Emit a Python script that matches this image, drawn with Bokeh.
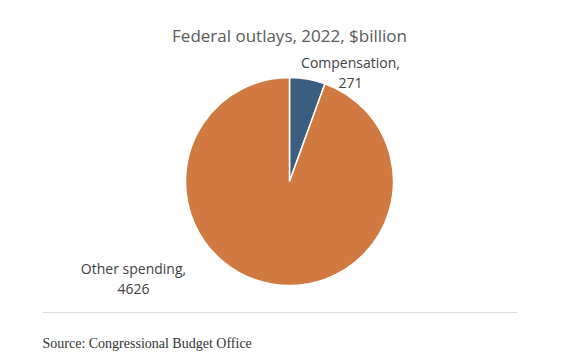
import numpy as np
from bokeh.plotting import figure
from bokeh.models import Range1d, ColumnDataSource
from bokeh.core.properties import value
from bokeh.embed import file_html
from bokeh.resources import INLINE

categories = ["Compensation", "Other spending"]
values = [271, 4626]
colors = ["#3B5D80", "#D07A41"]
title_text = "Federal outlays, 2022, $billion"
source_text = "Source: Congressional Budget Office"

W, H = 563, 356
p = figure(width=W, height=H, output_backend="svg", toolbar_location=None,
           x_range=Range1d(0, W), y_range=Range1d(0, H), min_border=0)
p.axis.visible = False
p.grid.visible = False
p.outline_line_color = None
p.background_fill_color = "white"
p.border_fill_color = "white"

total = sum(values)
fr = np.array(values) / total
cum = np.concatenate([[0], np.cumsum(fr)])
# clockwise from top
ends = np.pi / 2 - cum[:-1] * 2 * np.pi
starts = np.pi / 2 - cum[1:] * 2 * np.pi
cx, cy, r = 289, H - 181, 104
src = ColumnDataSource(dict(start=starts, end=ends, color=colors))
p.wedge(x=cx, y=cy, radius=r, radius_units="screen", start_angle="start", end_angle="end",
        fill_color="color", line_color="white", line_width=1.5, source=src)

p.text(x=[289], y=[H - 35], text=[title_text], text_font=value("Open Sans"),
       text_font_size="17px", text_color="#595959", text_align="center", text_baseline="middle")

lab_x = [350, 133]
lab_y = [H - 62, H - 268]
line1 = [f"{c}," for c in categories]
line2 = [str(v) for v in values]
p.text(x=lab_x, y=lab_y, text=line1, text_font=value("Open Sans"),
       text_font_size="14px", text_color="#404040", text_align="center", text_baseline="middle")
p.text(x=lab_x, y=[y - 20 for y in lab_y], text=line2, text_font=value("Open Sans"),
       text_font_size="14px", text_color="#404040", text_align="center", text_baseline="middle")

p.segment(x0=[42], y0=[H - 312], x1=[517], y1=[H - 312], line_color="#d9d9d9", line_width=1)
p.text(x=[42], y=[H - 343], text=[source_text], text_font=value("Liberation Serif"),
       text_font_size="14px", text_color="#333333", text_align="left", text_baseline="middle")

open("out.html", "w").write(file_html(p, INLINE))
